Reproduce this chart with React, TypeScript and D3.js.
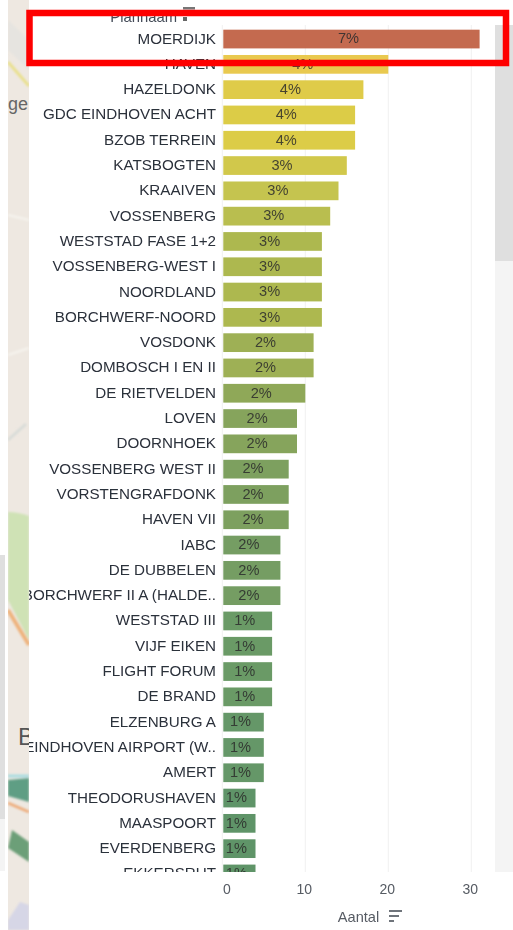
import React from "react";
import * as d3 from "d3";

const categories = ["MOERDIJK","HAVEN","HAZELDONK","GDC EINDHOVEN ACHT","BZOB TERREIN","KATSBOGTEN","KRAAIVEN","VOSSENBERG","WESTSTAD FASE 1+2","VOSSENBERG-WEST I","NOORDLAND","BORCHWERF-NOORD","VOSDONK","DOMBOSCH I EN II","DE RIETVELDEN","LOVEN","DOORNHOEK","VOSSENBERG WEST II","VORSTENGRAFDONK","HAVEN VII","IABC","DE DUBBELEN","BORCHWERF II A (HALDE..","WESTSTAD III","VIJF EIKEN","FLIGHT FORUM","DE BRAND","ELZENBURG A","EINDHOVEN AIRPORT (W..","AMERT","THEODORUSHAVEN","MAASPOORT","EVERDENBERG","EKKERSRUT"];
const values = [31,20,17,16,16,15,14,13,12,12,12,12,11,11,10,9,9,8,8,8,7,7,7,6,6,6,6,5,5,5,4,4,4,4];
const shares = ["7%","4%","4%","4%","4%","3%","3%","3%","3%","3%","3%","3%","2%","2%","2%","2%","2%","2%","2%","2%","2%","2%","2%","1%","1%","1%","1%","1%","1%","1%","1%","1%","1%","1%"];
const xTicks = [0,10,20,30];
const colorStops = [4,6,8,10,12,14,16,20,31];
const colorRange = ["#5f9467","#6a9a66","#7da05f","#8fa858","#adb850","#c5c44f","#dccc46","#e9c94f","#c46b50"];

const x = d3.scaleLinear().domain([0,30]).range([222.3,471.3]);
const y = d3.scaleBand<number>().domain(d3.range(categories.length)).range([26.4,26.4+25.3*categories.length]).paddingInner(0.26).paddingOuter(0.13);
const color = d3.scaleLinear<string>().domain(colorStops).range(colorRange);
const font = "'Liberation Sans', Arial, sans-serif";

export default function App(){
  const bw = y.bandwidth();
  return (
    <svg width={513} height={930} style={{position:"absolute",left:0,top:0,display:"block"}} xmlns="http://www.w3.org/2000/svg">
      <defs>
        <clipPath id="plot"><rect x={29} y={25} width={466} height={847}/></clipPath>
        <filter id="soft" x="-5%" y="-5%" width="110%" height="110%"><feGaussianBlur stdDeviation="0.35"/></filter>
        <filter id="mapblur"><feGaussianBlur stdDeviation="1"/></filter>
        <clipPath id="map"><rect x={8} y={0} width={21} height={930}/></clipPath>
      </defs>
      <rect width={513} height={930} fill="#fff"/>
      {/* left panel edge */}
      <rect x={0} y={555} width={5} height={264} fill="#dfdfdf"/>
      <rect x={0} y={819} width={5} height={52} fill="#f4f4f4"/>
      {/* map fragment */}
      <g clipPath="url(#map)">
        <rect x={8} width={21} height={930} fill="#eee8e1"/>
        <g filter="url(#mapblur)">
          <path d="M8 512 Q18 512 29 516 L29 640 L8 600 Z" fill="#cfe2b5"/>
          <path d="M8 610 L29 645" stroke="#eeb27c" strokeWidth={4} fill="none"/>
          <path d="M8 62 L29 86" stroke="#e9e08c" strokeWidth={3} fill="none"/>
          <path d="M8 20 L29 40 L29 70 L8 50 Z" fill="#e6e4e0"/>
          <path d="M8 780 L29 778 L29 802 L8 796 Z" fill="#5e9e84"/>
          <path d="M8 776 L29 776" stroke="#a8dbe0" strokeWidth={3}/>
          <path d="M8 803 L29 812" stroke="#eeaa78" strokeWidth={2.5}/>
          <path d="M12 830 L29 842 L29 862 L8 848 Z" fill="#6c9f78"/>
          <path d="M8 920 L20 902 L29 905 L29 930 L8 930 Z" fill="#d6d6e6"/>
          <path d="M8 440 L26 424" stroke="#d8dcd8" strokeWidth={3}/>
          <path d="M8 215 L29 220 M8 355 L29 348" stroke="#f6f4ef" strokeWidth={2}/>
        </g>
        <text x={8} y={110} fontFamily={font} fontSize={18} fill="#666">ge</text>
        <text x={18} y={745} fontFamily={font} fontSize={24} fill="#555">B</text>
      </g>
      {/* scrollbar */}
      <rect x={495} y={25} width={18} height={847} fill="#f4f4f4"/>
      <rect x={495} y={25} width={18} height={236} fill="#dfdfdf"/>
      <g filter="url(#soft)">
        {/* title */}
        <text x={177} y={22} textAnchor="end" fontFamily={font} fontSize={14.8} fill="#444c58">Plannaam</text>
        <rect x={183} y={17} width={4} height={4} fill="#666"/>
        <rect x={183} y={7} width={12} height={2.5} fill="#777"/>
        {/* gridlines */}
        {xTicks.map(t => <line key={t} x1={x(t)} x2={x(t)} y1={25} y2={872} stroke="#f1f1f1"/>)}
        <g clipPath="url(#plot)">
          {categories.map((c,i) => {
            const by = y(i)!;
            const v = values[i];
            return (
              <g key={c}>
                <text x={216} y={by+bw/2-1} dy="0.36em" textAnchor="end" fontFamily={font} fontSize={15.2} fill="#2b303b">{c}</text>
                <rect x={x(0)+1} y={by} width={x(v)-x(0)-1} height={bw} fill={color(v)}/>
                <text x={(x(0)+x(v))/2-2.5} y={by+bw/2-1} dy="0.36em" textAnchor="middle" fontFamily={font} fontSize={14.6} fill="#2b2b2b" fillOpacity={0.85}>{shares[i]}</text>
              </g>
            );
          })}
        </g>
        {/* x axis */}
        {xTicks.map(t => <text key={t} x={t===0 ? x(t)+4.7 : x(t)-1} y={894} textAnchor="middle" fontFamily={font} fontSize={14} fill="#565b63">{t}</text>)}
        <text x={358.5} y={922} textAnchor="middle" fontFamily={font} fontSize={14.6} fill="#565b63">Aantal</text>
        <g stroke="#5f646c" strokeWidth={1.8}>
          <line x1={389} x2={402} y1={911} y2={911}/>
          <line x1={389} x2={399} y1={916} y2={916}/>
          <line x1={389} x2={394} y1={921} y2={921}/>
        </g>
      </g>
      {/* highlight annotation */}
      <rect x={29.5} y={13} width={476.5} height={50} fill="none" stroke="#fe0000" strokeWidth={6.5}/>
    </svg>
  );
}
